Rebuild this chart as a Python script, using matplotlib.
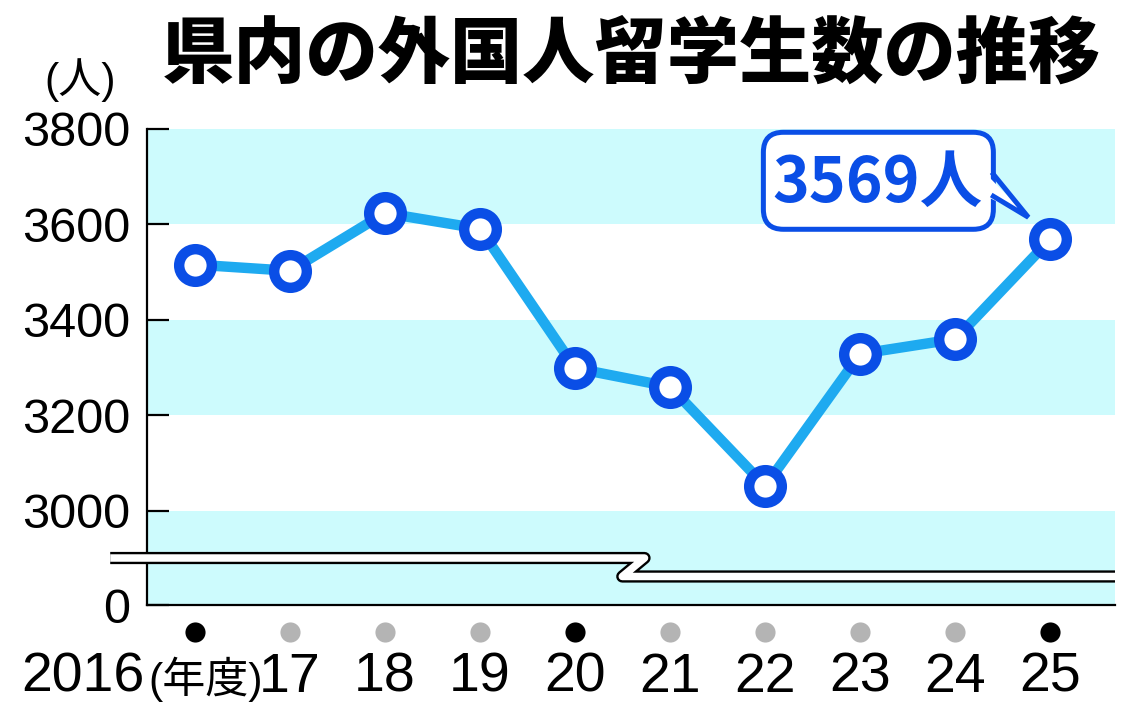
import matplotlib
matplotlib.use("Agg")
from matplotlib import pyplot as plt
from matplotlib import transforms
from matplotlib.patches import FancyBboxPatch, Polygon
from matplotlib.lines import Line2D
import numpy as np

plt.rcParams['font.family'] = ['Liberation Sans', 'Noto Sans CJK JP', 'DejaVu Sans']

# data
years = ['2016', '17', '18', '19', '20', '21', '22', '23', '24', '25']
students = [3516, 3503, 3624, 3591, 3299, 3260, 3052, 3329, 3360, 3569]
dot_black = [True, False, False, False, True, False, False, False, False, True]
yticks = [3000, 3200, 3400, 3600, 3800]
title = '県内の外国人留学生数の推移'
callout = '3569人'

CYAN = '#cdfbfd'
LINE = '#1eaaf0'
BLUE = '#0a4ee6'

W, H = 1140, 721
fig = plt.figure(figsize=(W / 100, H / 100), dpi=100)
ax = fig.add_axes([147 / W, 1 - 605 / H, (1115 - 147) / W, (605 - 129) / H])

x = np.arange(len(years))
ybottom = 2803
ax.set_xlim(-0.505, 9.68)
ax.set_ylim(ybottom, 3800)

# background bands
ax.axhspan(3600, 3800, color=CYAN, lw=0, zorder=0)
ax.axhspan(3200, 3400, color=CYAN, lw=0, zorder=0)
ax.axhspan(ybottom, 3000, color=CYAN, lw=0, zorder=0)

ax.plot(x, students, color=LINE, lw=7.5, zorder=3, solid_capstyle='round')
ax.plot(x, students, ls='none', marker='o', ms=23.5, mfc='white', mec=BLUE,
        mew=7.5, zorder=4)

for s in ['top', 'right']:
    ax.spines[s].set_visible(False)
for s in ['left', 'bottom']:
    ax.spines[s].set_linewidth(1.6)
    ax.spines[s].set_color('black')

ax.set_yticks([ybottom] + yticks)
ax.set_yticklabels(['0'] + [str(v) for v in yticks])
ax.tick_params(axis='y', direction='in', length=16, width=1.6, pad=12,
               labelsize=35)
ax.set_xticks([])

# axis break
bx = [-0.038, 0.514, 0.491, 1.0]
by = [0.0987, 0.0987, 0.0599, 0.0599]
ax.add_line(Line2D(bx, by, transform=ax.transAxes, color='black', lw=8.8,
                   clip_on=False, zorder=6, solid_joinstyle='round',
                   solid_capstyle='butt'))
ax.add_line(Line2D(bx, by, transform=ax.transAxes, color='white', lw=5.4,
                   clip_on=False, zorder=7, solid_joinstyle='round',
                   solid_capstyle='butt'))

# year markers and labels below the axis
trans = transforms.blended_transform_factory(ax.transData, ax.transAxes)
for i, lab in enumerate(years):
    ax.plot(x[i], -0.057, marker='o', ms=14.5, mew=0,
            color='black' if dot_black[i] else '#b4b4b4',
            transform=trans, clip_on=False)
    if i == 0:
        ax.annotate(lab, (x[i], -0.153), xycoords=trans, xytext=(-36, 0),
                    textcoords='offset points', ha='right', va='center',
                    fontsize=40)
        ax.annotate('(年度)', (x[i], -0.153), xycoords=trans, xytext=(8, -1),
                    textcoords='offset points', ha='center', va='center',
                    fontsize=31)
    else:
        ax.text(x[i], -0.153, lab, transform=trans, ha='center', va='center',
                fontsize=40)

# titles
fig.text(631 / W, 1 - 55 / H, title, ha='center', va='center', fontsize=52,
         fontweight='heavy', family=['Noto Sans CJK JP'])
fig.text(80 / W, 1 - 80 / H, '(人)', ha='center', va='center', fontsize=31)

# callout bubble anchored to last point
px, py = ax.transData.transform((x[-1], students[-1]))
off = transforms.Affine2D().translate(px, py)
box = FancyBboxPatch((-287, 10), 230, 97, boxstyle='round,pad=0,rounding_size=20',
                     transform=off, fc='white', ec=BLUE, lw=3.6, zorder=8,
                     clip_on=False)
ax.add_patch(box)
tail = Polygon([(-64, 65), (-22, 22), (-64, 43)], closed=True,
               transform=off, fc='white', ec='none', zorder=9, clip_on=False)
ax.add_patch(tail)
ax.add_line(Line2D([-57, -22, -57], [65, 22, 43], transform=off, color=BLUE,
                   lw=3.6, zorder=10, clip_on=False, solid_joinstyle='miter'))
ax.text(-173, 56, callout, transform=off, ha='center', va='center',
        fontsize=45, fontweight='bold', color=BLUE,
        family=['Noto Sans CJK JP'], zorder=11)

fig.savefig('out.png', dpi=100)
